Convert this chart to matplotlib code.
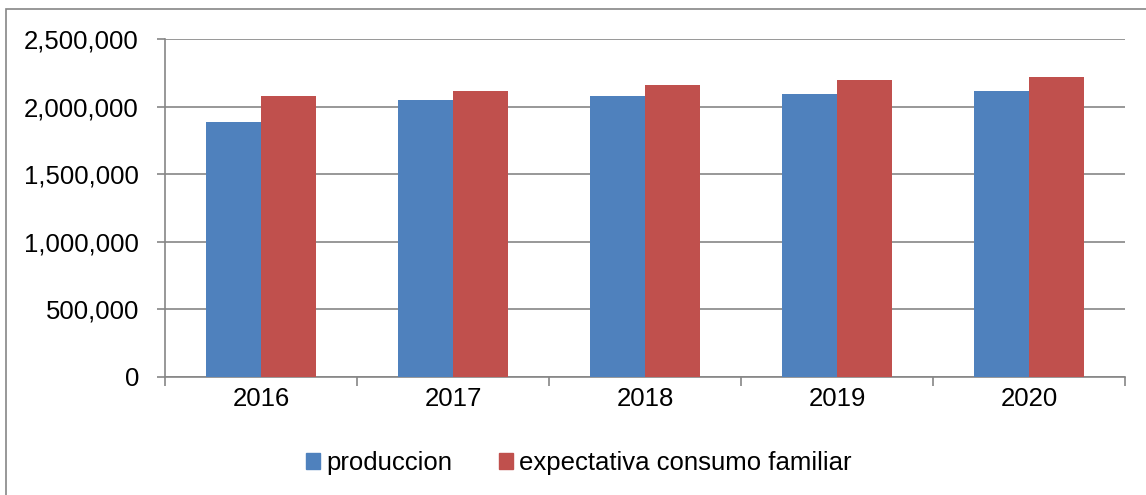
import numpy as np
import matplotlib
matplotlib.use("Agg")
import matplotlib.pyplot as plt
from matplotlib.patches import Patch, Rectangle
from matplotlib.ticker import FuncFormatter

plt.rcParams['font.family'] = ['Liberation Sans', 'DejaVu Sans']

# data
years = ["2016", "2017", "2018", "2019", "2020"]
produccion = [1886000, 2047000, 2076000, 2095000, 2115000]
consumo = [2076000, 2118000, 2162000, 2197000, 2219000]
series_names = ["produccion", "expectativa consumo familiar"]

blue = "#4F81BD"
red = "#C0504D"
grey = "#868686"

fig = plt.figure(figsize=(11.46, 4.95), dpi=100)
ax = fig.add_axes([165 / 1146, 1 - 376.5 / 495, 960 / 1146, 337.5 / 495])

# figure border (Excel chart area)
fig.patches.append(Rectangle((6 / 1146, -0.05), 1.1, 1 - 9 / 495 + 0.05,
                             transform=fig.transFigure, fill=False,
                             edgecolor=grey, linewidth=1.2, zorder=0))

x = np.arange(len(years)) + 0.5
w = 1 / 3.5
ax.bar(x - w / 2, produccion, width=w, color=blue, zorder=3)
ax.bar(x + w / 2, consumo, width=w, color=red, zorder=3)

ax.set_xlim(0, len(years))
ax.set_ylim(0, 2500000)
ax.set_yticks(np.arange(0, 2500001, 500000))
ax.yaxis.set_major_formatter(FuncFormatter(lambda v, p: f"{v:,.0f}"))
ax.grid(axis="y", color=grey, linewidth=1.2, zorder=1)

# x ticks at category borders, labels at centers
ax.set_xticks(np.arange(len(years) + 1))
ax.set_xticklabels([])
ax.set_xticks(x, minor=True)
ax.set_xticklabels(years, minor=True)
ax.tick_params(axis="x", which="major", length=6.2, width=1.2, color=grey, direction="out")
ax.tick_params(axis="x", which="minor", length=0, pad=7.5, labelsize=18.5)
ax.tick_params(axis="y", length=5.8, width=1.2, color=grey, direction="out", pad=13, labelsize=18.5)

for s in ["top", "right"]:
    ax.spines[s].set_visible(False)
for s in ["left", "bottom"]:
    ax.spines[s].set_color(grey)
    ax.spines[s].set_linewidth(1.2)

handles = [Patch(color=blue), Patch(color=red)]
fig.legend(handles, series_names, loc="center", bbox_to_anchor=(579 / 1146, 1 - 463 / 495),
           ncol=2, frameon=False, fontsize=18.5, handlelength=0.55, handleheight=0.55,
           handletextpad=0.25, columnspacing=1.8)

fig.savefig("out.png", dpi=100)
